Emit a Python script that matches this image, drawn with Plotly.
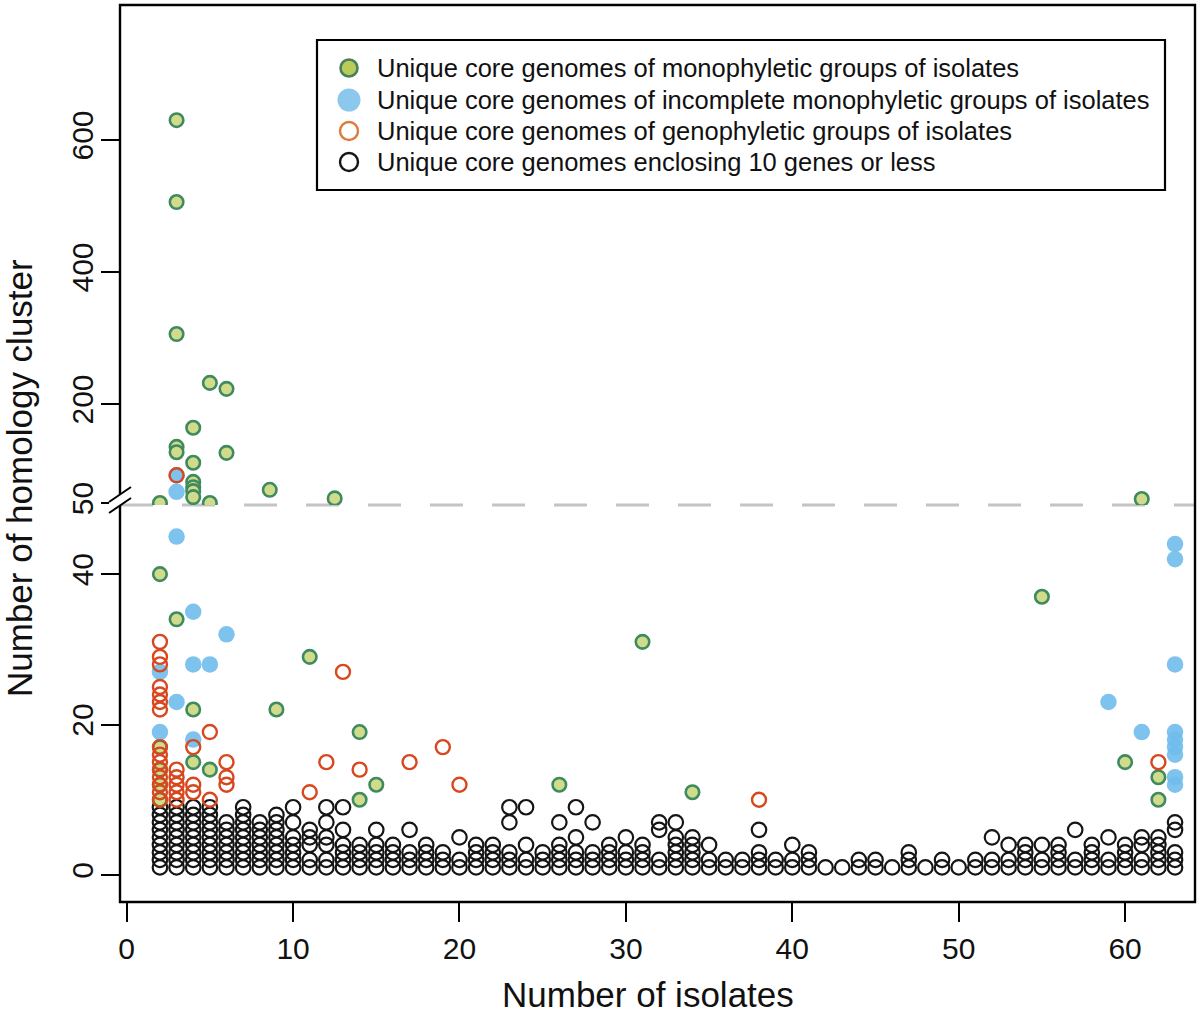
import plotly.graph_objects as go

# ---------------- data ----------------
# Unique core genomes of monophyletic groups (green)
green_isolates = [3, 3, 3, 5, 6, 4, 3, 3, 6, 4, 8.6, 4, 4, 4, 4, 2, 5, 12.5, 61,
                  2, 3, 4, 9, 11, 31, 55, 14, 2, 4, 2, 5, 15, 26, 14, 34, 60, 62, 62, 2, 2]
green_clusters = [630, 506, 306, 232, 223, 164, 135, 127, 126, 111, 70, 82, 74, 68, 59, 50, 50, 57, 56,
                  40, 34, 22, 22, 29, 31, 37, 19, 17, 15, 14, 14, 12, 12, 10, 11, 15, 13, 10, 12, 10]

# Unique core genomes of incomplete monophyletic groups (blue)
blue_isolates = [3, 3, 3, 4, 6, 4, 5, 2, 3, 2, 4, 59, 61, 63, 63, 63, 63, 63, 63, 63, 63, 63]
blue_clusters = [92, 67, 45, 35, 32, 28, 28, 27, 23, 19, 18, 23, 19, 44, 42, 28, 19, 18, 17, 16, 13, 12]

# Unique core genomes of genophyletic groups (red)
red_isolates = [3,
                2, 2, 2, 2, 2, 2, 2, 2, 2, 2, 2, 2, 2, 2, 2,
                3, 3, 3, 3, 3,
                4, 4, 4, 5, 5, 6, 6, 6,
                11, 12, 13, 14, 17, 19, 20, 38, 62]
red_clusters = [92,
                31, 29, 28, 25, 24, 23, 22, 17, 16, 15, 14, 13, 12, 11, 10,
                14, 13, 12, 11, 10,
                17, 12, 11, 19, 10, 15, 13, 12,
                11, 15, 27, 14, 15, 17, 12, 10, 15]

# Unique core genomes enclosing 10 genes or less (black)
black_isolates = (
    [2] * 9 + [3] * 9 + [4] * 9 + [5] * 9 + [6] * 7 + [7] * 9 + [8] * 7 + [9] * 8 +
    [10] * 7 + [11] * 5 + [12] * 6 + [13] * 6 + [14] * 4 + [15] * 5 + [16] * 4 +
    [17] * 4 + [18] * 4 + [19] * 3 + [20] * 3 + [21] * 4 + [22] * 4 + [23] * 5 +
    [24] * 4 + [25] * 3 + [26] * 5 + [27] * 5 + [28] * 4 + [29] * 4 + [30] * 4 +
    [31] * 4 + [32] * 4 + [33] * 6 + [34] * 5 + [35] * 3 + [36] * 2 + [37] * 2 +
    [38] * 4 + [39] * 2 + [40] * 3 + [41] * 3 + [42] * 1 + [43] * 1 + [44] * 2 +
    [45] * 2 + [46] * 1 + [47] * 3 + [48] * 1 + [49] * 2 + [50] * 1 + [51] * 2 +
    [52] * 3 + [53] * 3 + [54] * 4 + [55] * 3 + [56] * 4 + [57] * 3 + [58] * 4 +
    [59] * 3 + [60] * 4 + [61] * 4 + [62] * 5 + [63] * 5
)
black_clusters = (
    [1, 2, 3, 4, 5, 6, 7, 8, 9] + [1, 2, 3, 4, 5, 6, 7, 8, 9] +
    [1, 2, 3, 4, 5, 6, 7, 8, 9] + [1, 2, 3, 4, 5, 6, 7, 8, 9] +
    [1, 2, 3, 4, 5, 6, 7] + [1, 2, 3, 4, 5, 6, 7, 8, 9] + [1, 2, 3, 4, 5, 6, 7] +
    [1, 2, 3, 4, 5, 6, 7, 8] +
    [1, 2, 3, 4, 5, 7, 9] + [1, 2, 4, 5, 6] + [1, 2, 4, 5, 7, 9] + [1, 2, 3, 4, 6, 9] +
    [1, 2, 3, 4] + [1, 2, 3, 4, 6] + [1, 2, 3, 4] +
    [1, 2, 3, 6] + [1, 2, 3, 4] + [1, 2, 3] + [1, 2, 5] + [1, 2, 3, 4] + [1, 2, 3, 4] +
    [1, 2, 3, 7, 9] +
    [1, 2, 4, 9] + [1, 2, 3] + [1, 2, 3, 4, 7] + [1, 2, 3, 5, 9] + [1, 2, 3, 7] +
    [1, 2, 3, 4] + [1, 2, 3, 5] +
    [1, 2, 3, 4] + [1, 2, 6, 7] + [1, 2, 3, 4, 5, 7] + [1, 2, 3, 4, 5] + [1, 2, 4] +
    [1, 2] + [1, 2] +
    [1, 2, 3, 6] + [1, 2] + [1, 2, 4] + [1, 2, 3] + [1] + [1] + [1, 2] +
    [1, 2] + [1] + [1, 2, 3] + [1] + [1, 2] + [1] + [1, 2] +
    [1, 2, 5] + [1, 2, 4] + [1, 2, 3, 4] + [1, 2, 4] + [1, 2, 3, 4] + [1, 2, 6] +
    [1, 2, 3, 4] +
    [1, 2, 5] + [1, 2, 3, 4] + [1, 2, 4, 5] + [1, 2, 3, 4, 5] + [1, 2, 3, 6, 7]
)

x_ticks = [0, 10, 20, 30, 40, 50, 60]
y_low_ticks = [0, 20, 40]
y_high_ticks = [50, 200, 400, 600]
break_value = 50

legend_labels = [
    "Unique core genomes of monophyletic groups of isolates",
    "Unique core genomes of incomplete monophyletic groups of isolates",
    "Unique core genomes of genophyletic groups of isolates",
    "Unique core genomes enclosing 10 genes or less",
]

# ---------------- styling ----------------
FONT = "Liberation Sans, Arial, Helvetica, sans-serif"
GREEN_FILL = "#d0dc8c"
GREEN_LINE = "#3f8a5e"
BLUE = "rgba(112,188,236,0.9)"
RED = "#d8481f"
BLACK = "#151515"

W, H = 1200, 1015
ML, MR, MT, MB = 120, 5, 5, 113
PW, PH = W - ML - MR, H - MT - MB
BREAK_PX = 505  # pixel row of the axis break
split = (H - MB - BREAK_PX) / PH


def px_x(px):
    return (px - ML) / PW


def px_y(py):
    return (H - MB - py) / PH


def split_points(xs, ys):
    lo = [(a, b) for a, b in zip(xs, ys) if b < break_value]
    hi = [(a, b) for a, b in zip(xs, ys) if b >= break_value]
    return lo, hi


styles = [
    (black_isolates, black_clusters,
     dict(symbol="circle-open", size=14.5, color=BLACK, line=dict(width=2.2, color=BLACK))),
    (green_isolates, green_clusters,
     dict(symbol="circle", size=13.5, color=GREEN_FILL, line=dict(width=2.6, color=GREEN_LINE))),
    (blue_isolates, blue_clusters,
     dict(symbol="circle", size=16.5, color=BLUE, line=dict(width=0))),
    (red_isolates, red_clusters,
     dict(symbol="circle-open", size=14, color=RED, line=dict(width=2.4, color=RED))),
]

fig = go.Figure()
for xs, ys, marker in styles:
    lo, hi = split_points(xs, ys)
    fig.add_trace(go.Scatter(
        x=[p[0] for p in lo], y=[p[1] for p in lo], mode="markers",
        marker=marker, showlegend=False, hoverinfo="x+y",
        xaxis="x", yaxis="y"))
    if hi:
        fig.add_trace(go.Scatter(
            x=[p[0] for p in hi], y=[p[1] for p in hi], mode="markers",
            marker=marker, showlegend=False, hoverinfo="x+y",
            xaxis="x", yaxis="y2"))

# ---- legend (drawn on a pixel-unit overlay axis so spacing matches the original) ----
LEG_LEFT, LEG_TOP, LEG_RIGHT, LEG_BOTTOM = 317, 40, 1165, 190
LEG_ROWS = [68, 100, 131, 162]
LEG_SYM_X, LEG_TXT_X = 349, 375
legend_markers = [
    dict(symbol="circle", size=17, color="#b9cc5a", line=dict(width=2.6, color="#4a7f5c")),
    dict(symbol="circle", size=23, color="#8cc8ee", line=dict(width=0)),
    dict(symbol="circle-open", size=18, color="#df7a3c", line=dict(width=2.4, color="#df7a3c")),
    dict(symbol="circle-open", size=18, color=BLACK, line=dict(width=2.4, color=BLACK)),
]
for row_y, mk in zip(LEG_ROWS, legend_markers):
    fig.add_trace(go.Scatter(x=[LEG_SYM_X], y=[row_y], mode="markers", marker=mk,
                             showlegend=False, hoverinfo="skip",
                             xaxis="x3", yaxis="y3"))
for row_y, label in zip(LEG_ROWS, legend_labels):
    fig.add_annotation(text=label, xref="x3", yref="y3", x=LEG_TXT_X, y=row_y,
                       xanchor="left", yanchor="middle", showarrow=False,
                       font=dict(family=FONT, size=25.5, color="#111"))

axis_common = dict(showgrid=False, zeroline=False, showline=False, ticks="outside",
                   tickwidth=2, tickcolor="black", automargin=False,
                   tickfont=dict(family=FONT, size=30, color="#111"))
hidden = dict(visible=False, showgrid=False, zeroline=False, fixedrange=True)

fig.update_layout(
    width=W, height=H,
    margin=dict(l=ML, r=MR, t=MT, b=MB, autoexpand=False),
    paper_bgcolor="white", plot_bgcolor="white",
    font=dict(family=FONT, color="#111"),
    xaxis=dict(range=[-0.4, 64.2], tickvals=x_ticks, ticklen=19,
               ticklabelstandoff=1, **axis_common),
    yaxis=dict(domain=[0, split], range=[-3.6, 49.2], tickvals=y_low_ticks,
               ticklen=18, tickangle=-90, anchor="x", ticklabelstandoff=-4, **axis_common),
    yaxis2=dict(domain=[split, 1], range=[47, 804.5], tickvals=y_high_ticks,
                ticklen=18, tickangle=-90, anchor="x", ticklabelstandoff=-4, **axis_common),
    # pixel-unit overlay over the upper panel, used only for the legend
    xaxis3=dict(range=[ML, W - MR], anchor="y3", overlaying="x", **hidden),
    yaxis3=dict(range=[BREAK_PX, MT], anchor="x3", overlaying="y2", **hidden),
    showlegend=False,
)

shapes = [
    # dashed break line
    dict(type="line", xref="paper", yref="paper", x0=0, x1=1, y0=split, y1=split,
         line=dict(color="#c4c4c4", width=3, dash="33px,29px"), layer="below"),
    # legend frame
    dict(type="rect", xref="x3", yref="y3", x0=LEG_LEFT, x1=LEG_RIGHT,
         y0=LEG_TOP, y1=LEG_BOTTOM, line=dict(color="black", width=2.2),
         fillcolor="white", layer="below"),
    # box around the plot
    dict(type="rect", xref="paper", yref="paper", x0=0, x1=1, y0=0, y1=1,
         line=dict(color="black", width=2.4), layer="above"),
    # white gap for the axis break
    dict(type="path", xref="paper", yref="paper",
         path=f"M {px_x(109)},{px_y(502)} L {px_x(131)},{px_y(487)} "
              f"L {px_x(131)},{px_y(498)} L {px_x(109)},{px_y(513)} Z",
         fillcolor="white", line=dict(width=0), layer="above"),
    dict(type="line", xref="paper", yref="paper", x0=px_x(109), y0=px_y(502),
         x1=px_x(131), y1=px_y(487), line=dict(color="black", width=2), layer="above"),
    dict(type="line", xref="paper", yref="paper", x0=px_x(109), y0=px_y(513),
         x1=px_x(131), y1=px_y(498), line=dict(color="black", width=2), layer="above"),
]
fig.update_layout(shapes=shapes)

fig.add_annotation(text="Number of isolates", xref="paper", yref="paper",
                   x=px_x(648), y=px_y(994), xanchor="center", yanchor="middle",
                   showarrow=False, font=dict(family=FONT, size=35, color="#111"))
fig.add_annotation(text="Number of homology cluster", xref="paper", yref="paper",
                   x=px_x(19), y=px_y(478), xanchor="center", yanchor="middle",
                   textangle=-90, showarrow=False,
                   font=dict(family=FONT, size=35, color="#111"))

fig.write_html("out.html", config={"displayModeBar": False},
               post_script="document.body.style.margin='0';document.body.style.overflow='hidden';")
